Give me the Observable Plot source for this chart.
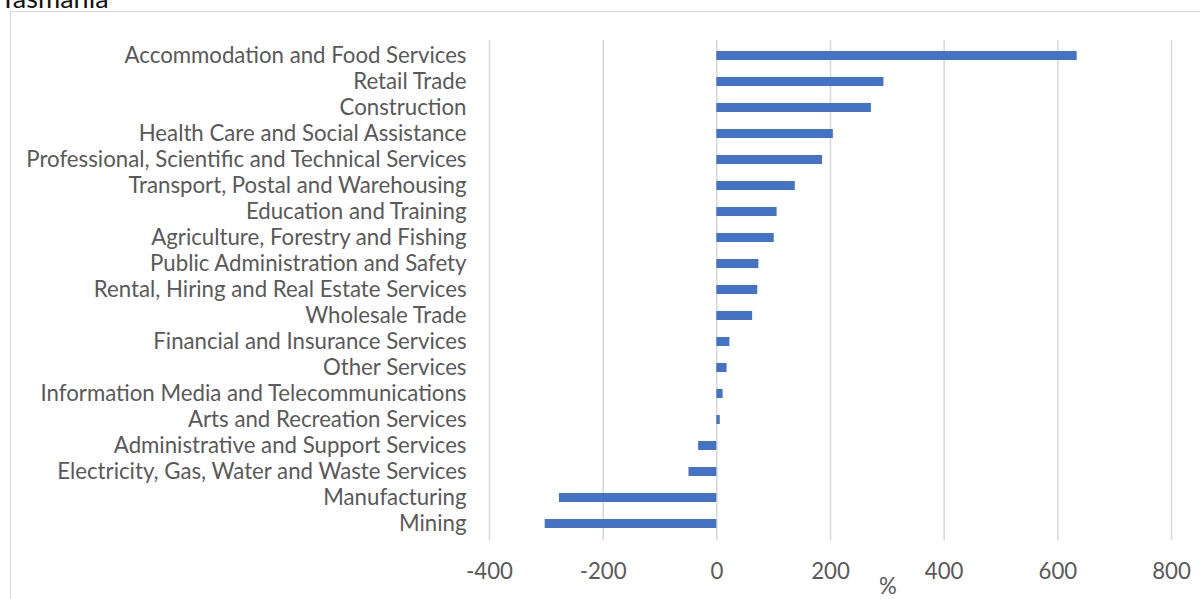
<!DOCTYPE html>
<html><head><meta charset="utf-8">
<script src="https://cdn.jsdelivr.net/npm/d3@7"></script>
<script src="https://cdn.jsdelivr.net/npm/@observablehq/plot@0.6"></script>
<style>
body{margin:0;background:#fff;}
#wrap{position:relative;width:1200px;height:599px;overflow:hidden;font-family:Lato,"Open Sans",sans-serif;}
#title{position:absolute;left:0;top:-16px;font-size:27px;line-height:27px;color:#111;white-space:nowrap;}
#frame{position:absolute;left:10px;top:11px;width:1300px;height:700px;border:1.5px solid #d9d9d9;box-sizing:border-box;}
#chart{position:absolute;left:0;top:0;}
#unit{position:absolute;left:879px;top:575px;font-size:20px;line-height:22px;color:#595959;}
</style></head>
<body>
<div id="wrap">
  <div id="frame"></div>
  <div id="title">Tasmania</div>
  <div id="chart"></div>
  <div id="unit">%</div>
</div>
<script>
const categories = [
  "Accommodation and Food Services",
  "Retail Trade",
  "Construction",
  "Health Care and Social Assistance",
  "Professional, Scientific and Technical Services",
  "Transport, Postal and Warehousing",
  "Education and Training",
  "Agriculture, Forestry and Fishing",
  "Public Administration and Safety",
  "Rental, Hiring and Real Estate Services",
  "Wholesale Trade",
  "Financial and Insurance Services",
  "Other Services",
  "Information Media and Telecommunications",
  "Arts and Recreation Services",
  "Administrative and Support Services",
  "Electricity, Gas, Water and Waste Services",
  "Manufacturing",
  "Mining"
];
const values = [634, 294, 272, 205, 186, 138, 106, 101, 74, 72, 63, 23, 18, 11, 6, -32, -49, -277, -302];
const xTicks = [-400, -200, 0, 200, 400, 600, 800];

const data = categories.map((c, i) => ({category: c, value: values[i]}));

// fit font size so the longest label matches the reference width (~441px)
const fam = 'Lato, "Open Sans", sans-serif';
const ctx = document.createElement("canvas").getContext("2d");
ctx.font = `20px ${fam}`;
const w = ctx.measureText("Professional, Scientific and Technical Services").width;
const fs = Math.max(14, Math.min(24, 20 * 441 / w));

const chart = Plot.plot({
  width: 1200,
  height: 599,
  marginTop: 40,
  marginBottom: 59,
  marginLeft: 489,
  marginRight: 29,
  style: {fontFamily: fam, fontSize: fs + "px", color: "#595959", background: "transparent", overflow: "visible"},
  x: {domain: [-400, 800], ticks: xTicks, label: null},
  y: {domain: categories, label: null, paddingInner: 0.64, paddingOuter: 0.32},
  marks: [
    Plot.gridX(xTicks, {stroke: "#d9d9d9", strokeOpacity: 1, strokeWidth: 1.6}),
    Plot.barX(data, {x: "value", y: "category", fill: "#4472C4"}),
    Plot.axisY({tickSize: 0, tickPadding: 23, fill: "#595959", label: null}),
    Plot.axisX({ticks: xTicks, tickSize: 0, tickPadding: 23, fill: "#595959", label: null, tickFormat: d => d.toString()})
  ]
});
document.getElementById("chart").appendChild(chart);
document.getElementById("unit").style.fontSize = fs + "px";
</script>
</body></html>
